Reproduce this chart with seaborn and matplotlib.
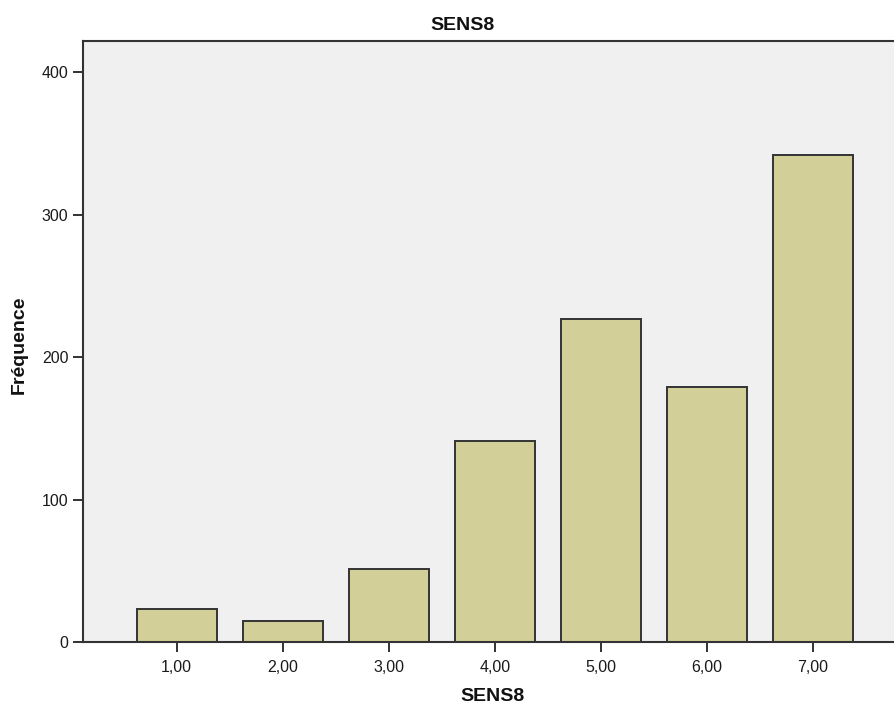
import numpy as np
import pandas as pd
import matplotlib
matplotlib.use("Agg")
import matplotlib.pyplot as plt
import seaborn as sns

# valeurs (SPSS)
categories = ["1,00", "2,00", "3,00", "4,00", "5,00", "6,00", "7,00"]
frequences = [23, 15, 51, 141, 227, 179, 342]

df = pd.DataFrame({"SENS8": categories, "Fréquence": frequences})

sns.set_style("white")
plt.rcParams["font.family"] = ["Liberation Sans", "DejaVu Sans"]
plt.rcParams["text.color"] = "#111111"

fig = plt.figure(figsize=(8.95, 7.13), dpi=100)
ax = fig.add_axes([83 / 895, 71 / 713, 1 - 83 / 895, 601 / 713])
ax.set_facecolor("#F0F0F0")

sns.barplot(data=df, x="SENS8", y="Fréquence", color="#D3CF98",
            saturation=1, width=0.755, edgecolor="#333333", linewidth=1.4, ax=ax)

ax.set_xlim(-0.884, 6.776)
ax.set_ylim(0, 422)
ax.set_yticks([0, 100, 200, 300, 400])
ax.tick_params(axis="both", direction="out", length=7, width=1.3, color="#222222",
               labelsize=11.5, labelcolor="#1a1a1a", bottom=True, left=True)
ax.tick_params(axis="x", pad=6)

for side in ["left", "bottom", "top"]:
    ax.spines[side].set_visible(True)
    ax.spines[side].set_color("#333333")
    ax.spines[side].set_linewidth(1.5)
ax.spines["right"].set_visible(False)

ax.set_xlabel("SENS8", fontsize=14, fontweight="bold", color="#111111")
ax.set_ylabel("Fréquence", fontsize=14, fontweight="bold", color="#111111")
ax.xaxis.set_label_coords((493 - 83) / (895 - 83), -(688 - 642) / 601)
ax.yaxis.set_label_coords(-(83 - 28) / (895 - 83), (642 - 345) / 601)

fig.text(463 / 895, 1 - 25 / 713, "SENS8", ha="center", va="center",
         fontsize=14, fontweight="bold")

fig.savefig("out.png", dpi=100)
